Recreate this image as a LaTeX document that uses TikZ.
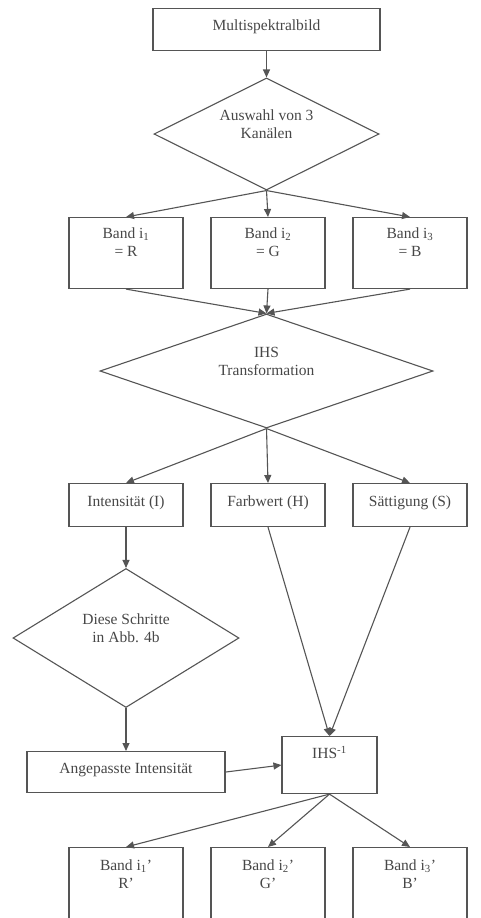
\documentclass[tikz,border=0pt]{standalone}
\usepackage{fontspec}
\setmainfont{Liberation Serif}
\usetikzlibrary{shapes.geometric,arrows.meta}
\definecolor{linegray}{HTML}{555555}
\definecolor{textgray}{HTML}{474747}
\tikzset{
  box/.style={draw=linegray, rectangle, inner sep=0pt, align=center, anchor=north},
  decision/.style={draw=linegray, diamond, shape aspect=2, inner sep=0pt, align=center, text height=29pt, text depth=20pt},
  flow/.style={draw=linegray, -{Triangle[length=8pt,width=7pt]}},
}
\begin{document}
\begin{tikzpicture}[x=1pt, y=-1pt, line width=1.1pt, font=\fontsize{15.5}{18}\selectfont, text=textgray]
        \clip (0,0) rectangle (481,918);
        \fill[white] (0,0) rectangle (481,918);

        % Input image
        \node[box, minimum width=227pt, text height=22pt, text depth=20pt] (multi) at (266.5,8) {Multispektralbild};
        \node[decision, minimum width=225pt, minimum height=112pt] (choose) at (266.5,134) {Auswahl von 3\\Kanälen};

        % 3 bands
        \node[box, minimum width=114pt, text height=39pt, text depth=32pt] (bandr) at (126,217) {Band i\textsubscript{1}\\= R};
        \node[box, minimum width=114pt, text height=39pt, text depth=32pt] (bandg) at (268,217) {Band i\textsubscript{2}\\= G};
        \node[box, minimum width=114pt, text height=39pt, text depth=32pt] (bandb) at (410,217) {Band i\textsubscript{3}\\= B};

        % IHS transform
        \node[decision, minimum width=333pt, minimum height=114pt] (ihs) at (266.5,371) {IHS\\Transformation};

        \node[box, minimum width=114pt, text height=23pt, text depth=20pt] (inten) at (126,483) {Intensität (I)};
        \node[box, minimum width=114pt, text height=23pt, text depth=20pt] (hue) at (268,483) {Farbwert (H)};
        \node[box, minimum width=114pt, text height=23pt, text depth=20pt] (sat) at (410,483) {Sättigung (S)};

        % Fusion steps
        \node[decision, minimum width=226pt, minimum height=139pt] (steps) at (126,638) {Diese Schritte\\in Abb. 4b};
        \node[box, minimum width=198pt, text height=22pt, text depth=19pt] (adapt) at (126,751) {Angepasste Intensität};
        \node[box, minimum width=95pt, text height=22pt, text depth=35pt] (inv) at (329.5,736) {IHS\textsuperscript{-1}};

        % Output bands
        \node[box, minimum width=114pt, text height=41pt, text depth=62pt] (outr) at (126,847) {Band i\textsubscript{1}'\\R'};
        \node[box, minimum width=114pt, text height=41pt, text depth=62pt] (outg) at (268,847) {Band i\textsubscript{2}'\\G'};
        \node[box, minimum width=114pt, text height=41pt, text depth=62pt] (outb) at (410,847) {Band i\textsubscript{3}'\\B'};

        % Arrows
        \draw[flow] (multi.south) -- (choose.north);
        \draw[flow] (choose.south) -- (bandr.north);
        \draw[flow] (choose.south) -- (bandg.north);
        \draw[flow] (choose.south) -- (bandb.north);
        \draw[flow] (bandr.south) -- (ihs.north);
        \draw[flow] (bandg.south) -- (ihs.north);
        \draw[flow] (bandb.south) -- (ihs.north);
        \draw[flow] (ihs.south) -- (inten.north);
        \draw[flow] (ihs.south) -- (hue.north);
        \draw[flow] (ihs.south) -- (sat.north);
        \draw[flow] (inten.south) -- (steps.north);
        \draw[flow] (steps.south) -- (adapt.north);
        \draw[flow] (hue.south) -- (inv.north);
        \draw[flow] (sat.south) -- (inv.north);
        \draw[flow] (adapt.east) -- (inv.west);
        \draw[flow] (inv.south) -- (outr.north);
        \draw[flow] (inv.south) -- (outg.north);
        \draw[flow] (inv.south) -- (outb.north);
    \end{tikzpicture}
\end{document}
